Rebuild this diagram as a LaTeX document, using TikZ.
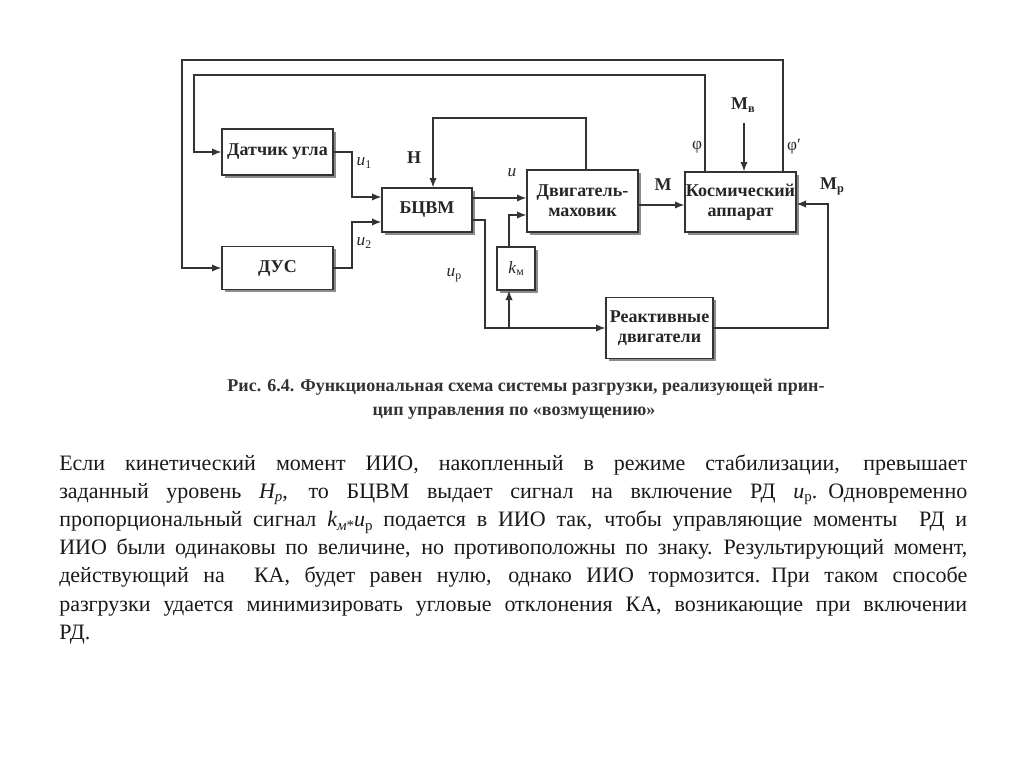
\documentclass[tikz,border=0pt]{standalone}
\usepackage{fontspec}
\usepackage{graphicx}
\setmainfont{Liberation Serif}
\usetikzlibrary{arrows.meta,shadows}
\newcommand{\lowidx}[1]{\raisebox{-0.35ex}{\scalebox{0.68}{#1}}}
\newlength{\bodyw}
\setlength{\bodyw}{681pt}
\newcommand{\jline}[1]{\hbox to \bodyw{\vrule height 0.9em width 0pt\spaceskip=0.25em plus 1fil\relax #1}}
\begin{document}
\begin{tikzpicture}[x=0.75pt,y=-0.75pt,
  box/.style={draw=black!80, line width=1pt, fill=white,
    drop shadow={shadow xshift=2.2pt, shadow yshift=-2.2pt, fill=black!45, opacity=1},
    font=\fontsize{13.5}{15}\selectfont\bfseries, align=center, inner sep=0pt, text=black!85},
  sz/.style 2 args={minimum width=#1*0.75pt, minimum height=#2*0.75pt},
  wire/.style={draw=black!80, line width=1pt},
  arr/.style={wire, -{Latex[length=7pt,width=5.5pt]}},
  lbl/.style={font=\fontsize{13}{15}\selectfont, text=black!85, inner sep=0pt},
  blbl/.style={font=\fontsize{13.5}{15}\selectfont\bfseries, text=black!85, inner sep=0pt}]
\useasboundingbox (0,0) rectangle (1024,767);

% blocks
\node[box, sz={111}{46}] (dat) at (277.5,152) {Датчик угла};
\node[box, sz={111}{43}] (dus) at (277.5,268) {ДУС};
\node[box, sz={90}{44}] (bcvm) at (427,210) {БЦВМ};
\node[box, sz={111}{62}] (dvig) at (582.5,201) {Двигатель-\\маховик};
\node[box, sz={111}{60}] (ka) at (740.5,202) {Космический\\аппарат};
\node[box, sz={38}{43}, font=\fontsize{13}{15}\selectfont] (km) at (516,268.5) {\textit{k}\lowidx{м}};
\node[box, sz={107}{61}] (rd) at (659.5,328) {Реактивные\\двигатели};

% coordinates
\coordinate (o1) at (783,60);
\coordinate (o2) at (182,60);
\coordinate (i1) at (705,75);
\coordinate (i2) at (194,75);
\coordinate (mvs) at (744,123);
\coordinate (j1) at (352,197);
\coordinate (j2) at (352,222);
\coordinate (h1) at (433,118);
\coordinate (h2) at (586,118);
\coordinate (ua) at (500,198);
\coordinate (p1) at (485,220);
\coordinate (kt) at (509,328);
\coordinate (kq) at (509,215);
\coordinate (mm) at (660,205);
\coordinate (r1) at (828,204);

% connectors
\draw[arr] (o1 |- ka.north) -- (o1) -- (o2) |- (dus.west);
\draw[arr] (i1 |- ka.north) -- (i1) -- (i2) |- (dat.west);
\draw[arr] (mvs) -- (mvs |- ka.north);
\draw[arr] (dat.east) -| (j1) -- (j1 -| bcvm.west);
\draw[arr] (dus.east) -| (j2) -- (j2 -| bcvm.west);
\draw[arr] (h2 |- dvig.north) -- (h2) -- (h1) -- (h1 |- bcvm.north);
\draw[arr] (ua -| bcvm.east) -- (ua -| dvig.west);
\draw[arr] (p1 -| bcvm.east) -- (p1) |- (rd.west);
\draw[arr] (kt) -- (kt |- km.south);
\draw[arr] (kq |- km.north) -- (kq) -- (kq -| dvig.west);
\draw[arr] (mm -| dvig.east) -- (mm -| ka.west);
\draw[arr] (rd.east) -| (r1) -- (r1 -| ka.east);

% labels
\node[lbl] (lu1) at (364,163) {\textit{u}\lowidx{1}};
\node[lbl] (lu2) at (364,243) {\textit{u}\lowidx{2}};
\node[blbl] (lh) at (414,158) {H};
\node[lbl] (lu) at (512,173) {\textit{u}};
\node[lbl] (lup) at (454,275) {\textit{u}\lowidx{р}};
\node[blbl] (lm) at (663,185) {M};
\node[lbl] (lphi) at (697,147) {φ};
\node[lbl] (lphi2) at (794,147) {φ′};
\node[blbl] (lmv) at (743,105) {M\lowidx{в}};
\node[blbl] (lmr) at (832,186) {M\lowidx{р}};

% caption
\node[font=\fontsize{13.5}{18}\selectfont\bfseries, align=center, text=black!80, inner sep=0pt] (cap) at (526,399)
 {Рис. 6.4. Функциональная схема системы разгрузки, реализующей прин-\\цип управления по «возмущению»\hspace*{18pt}};

% body text
\node[anchor=north west, inner sep=0pt, text width=\bodyw, font=\fontsize{16.5}{21.15}\selectfont, text=black!90] (body) at (59,450)
{\jline{Если кинетический момент ИИО, накопленный в режиме стабилизации, превышает}
\jline{заданный уровень \textit{H\lowidx{р}}, то БЦВМ выдает сигнал на включение РД \textit{u}\lowidx{р}. Одновременно}
\jline{пропорциональный сигнал \textit{k\lowidx{м}}\lowidx{*}\textit{u}\lowidx{р} подается в ИИО так, чтобы управляющие моменты\ \ РД и}
\jline{ИИО были одинаковы по величине, но противоположны по знаку. Результирующий момент,}
\jline{действующий на\ \ КА, будет равен нулю, однако ИИО тормозится. При таком способе}
\jline{разгрузки удается минимизировать угловые отклонения КА, возникающие при включении}
\hbox{\vrule height 0.9em width 0pt РД.}};
\end{tikzpicture}
\end{document}
